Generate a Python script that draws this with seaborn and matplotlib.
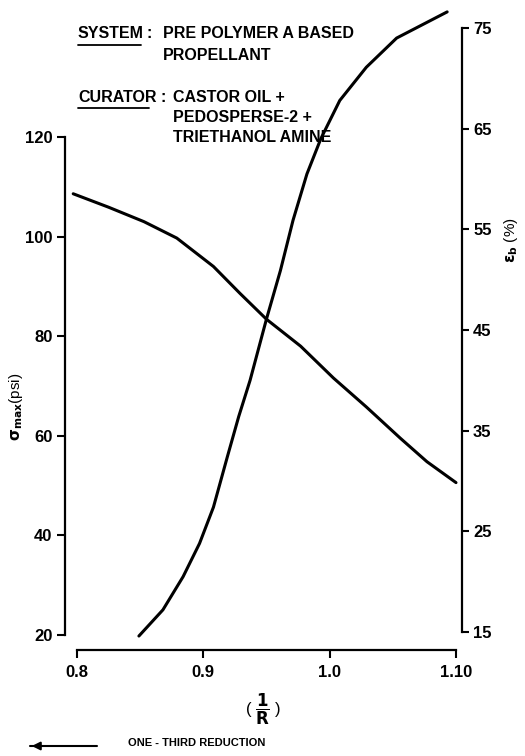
import matplotlib
matplotlib.use('Agg')
import matplotlib.pyplot as plt
import seaborn as sns

# data
x_sigma = [0.797, 0.825, 0.853, 0.879, 0.908, 0.929, 0.950, 0.977, 1.003, 1.029, 1.056, 1.077, 1.100]
sigma_max = [108.6, 105.9, 103.0, 99.7, 94.0, 88.6, 83.4, 78.0, 71.6, 65.8, 59.5, 54.8, 50.6]

x_eps = [0.849, 0.868, 0.884, 0.897, 0.908, 0.919, 0.928, 0.937, 0.950, 0.961,
         0.971, 0.982, 0.993, 1.008, 1.029, 1.053, 1.093]
eps_b = [14.6, 17.2, 20.5, 23.8, 27.4, 32.4, 36.4, 40.0, 46.1, 50.9,
         55.9, 60.5, 64.0, 67.8, 71.1, 74.0, 76.6]

x_ticks = [0.8, 0.9, 1.0, 1.10]
x_ticklabels = ['0.8', '0.9', '1.0', '1.10']
left_ticks = [20, 40, 60, 80, 100, 120]
right_ticks = [15, 25, 35, 45, 55, 65, 75]

sns.set_style('white')
plt.rcParams['font.family'] = ['Liberation Sans', 'DejaVu Sans']
plt.rcParams['font.weight'] = 'bold'
plt.rcParams['text.color'] = 'black'
plt.rcParams['axes.labelcolor'] = 'black'
plt.rcParams['xtick.color'] = 'black'
plt.rcParams['ytick.color'] = 'black'

W, H = 525, 756
fig = plt.figure(figsize=(W / 100, H / 100), dpi=100)

def box(x0, y0, x1, y1):
    return [x0 / W, 1 - y1 / H, (x1 - x0) / W, (y1 - y0) / H]

ax = fig.add_axes(box(77, 137, 456, 635))
ax2 = fig.add_axes(box(77, 28, 456, 632))
ax2.patch.set_alpha(0)

sns.lineplot(x=x_sigma, y=sigma_max, ax=ax, color='black', lw=2.2, clip_on=False)
sns.lineplot(x=x_eps, y=eps_b, ax=ax2, color='black', lw=2.2, clip_on=False)

ax.set_xlim(0.8, 1.10)
ax.set_ylim(20, 120)
ax2.set_xlim(0.8, 1.10)
ax2.set_ylim(15, 75)

for s in ['top', 'right']:
    ax.spines[s].set_visible(False)
for s in ['top', 'left', 'bottom']:
    ax2.spines[s].set_visible(False)
ax.spines['left'].set_position(('outward', 8.6))
ax.spines['bottom'].set_position(('outward', 10.8))
ax2.spines['right'].set_position(('outward', 4.3))
for sp in [ax.spines['left'], ax.spines['bottom'], ax2.spines['right']]:
    sp.set_linewidth(1.6)
    sp.set_color('black')

ax.set_xticks(x_ticks)
ax.set_xticklabels(x_ticklabels)
ax.set_yticks(left_ticks)
ax2.set_yticks(right_ticks)
ax2.set_xticks([])
ax2.yaxis.tick_right()
ax.tick_params(axis='both', direction='out', length=6, width=1.5, color='black',
               labelsize=12, pad=3, left=True, bottom=True)
ax.tick_params(axis='x', pad=5)
ax2.tick_params(axis='y', direction='out', length=5, width=1.5, color='black',
                labelsize=12, pad=3, right=True, left=False)

ax.set_xlabel(r'( $\dfrac{\mathbf{1}}{\mathbf{R}}$ )', fontsize=12)
ax.xaxis.set_label_coords(0.491, -0.115)
ax.set_ylabel(r'$\mathbf{\sigma}_{\mathbf{max}}$(psi)', fontsize=11)
ax.yaxis.set_label_coords(-0.138, 0.458)
ax2.set_ylabel(r'$\mathbf{\epsilon_b}$ (%)', fontsize=11)
ax2.yaxis.set_label_position('right')
ax2.yaxis.set_label_coords(1.122, 0.649)

# header text
def ftext(x, y, s, **kw):
    fig.text(x / W, 1 - y / H, s, va='center', ha='left', **kw)

def uline(x0, x1, y):
    fig.add_artist(plt.Line2D([x0 / W, x1 / W], [1 - y / H, 1 - y / H], color='black', lw=1.3))

ftext(78, 34, 'SYSTEM', fontsize=11.5)
uline(78, 141, 45)
ftext(147, 34, ':', fontsize=11.5)
ftext(163, 34, 'PRE POLYMER A BASED', fontsize=11.5)
ftext(163, 55, 'PROPELLANT', fontsize=11.5)
ftext(78, 97, 'CURATOR', fontsize=11.5)
uline(78, 149, 108)
ftext(160, 97, ':', fontsize=11.5)
ftext(173, 97, 'CASTOR OIL +', fontsize=11.5)
ftext(173, 117, 'PEDOSPERSE-2 +', fontsize=11.5)
ftext(173, 137, 'TRIETHANOL AMINE', fontsize=11.5)

ftext(128, 743, 'ONE - THIRD REDUCTION', fontsize=8)
fig.add_artist(plt.Line2D([30 / W, 97 / W], [1 - 746 / H, 1 - 746 / H], color='black', lw=1.5))
ax.annotate('', xy=(29 / W, 1 - 746 / H), xytext=(45 / W, 1 - 746 / H),
            xycoords='figure fraction', textcoords='figure fraction',
            arrowprops=dict(arrowstyle='-|>', color='black', lw=1.5, mutation_scale=12))

fig.savefig('out.png', dpi=100)
